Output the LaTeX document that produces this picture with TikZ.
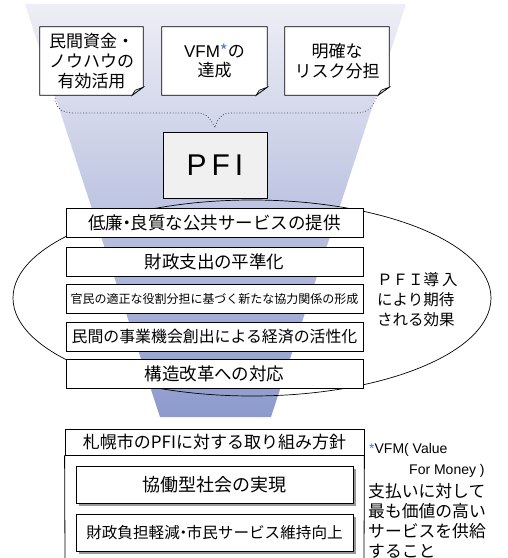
\documentclass[tikz,border=0pt]{standalone}
\usepackage{fontspec}
\setmainfont{Noto Sans CJK JP}
\newfontfamily\lat{Liberation Sans}
\usetikzlibrary{backgrounds,shadows,calc}
\definecolor{ftop}{RGB}{238,238,246}
\definecolor{fbot}{RGB}{140,154,205}
\definecolor{vfmblue}{RGB}{70,120,210}
\definecolor{pfifill}{RGB}{240,240,240}
\newcommand{\nakaguro}{\kern-0.28em・\kern-0.28em}
\begin{document}
\begin{tikzpicture}[x=1pt,y=-1pt,
  notebox/.style={minimum width=103pt, minimum height=68pt, inner sep=0pt, align=center,
    font=\fontsize{17}{19.8}\selectfont},
  noteline/.style={draw=black, line width=0.8pt, fill=white},
  effbox/.style={draw, fill=white, line width=0.8pt, minimum width=297pt, minimum height=29pt,
    inner sep=0pt, font=\fontsize{17.5}{20}\selectfont},
  planbox/.style={draw, fill=white, line width=0.8pt, minimum width=277pt, minimum height=37pt,
    inner sep=0pt, drop shadow={shadow xshift=2.5pt, shadow yshift=-2.5pt, fill=black!40, opacity=1}},
  bracepath/.style={dotted, line width=0.8pt, draw=black!75}
]
\useasboundingbox (0,0) rectangle (508,558);

% text boxes of the top row (outlines drawn on background)
\node[notebox] (b1) at (91.5,61) {民間資金・\\ノウハウの\\有効活用};
\node[notebox, minimum width=105pt] (b2) at (214.5,61) {{\lat VFM}\textcolor{vfmblue}{*}の\\達成};
\node[notebox, minimum width=104pt] (b3) at (337,61) {明確な\\リスク分担};

\begin{pgfonlayer}{background}
  % funnel
  \shade[top color=ftop, bottom color=fbot] (25,4) -- (406,4) -- (271,417) -- (160,417) -- cycle;
  % note outlines with folded corner
  \foreach \b in {b1,b2,b3}{
    \draw[noteline] (\b.north west) -- (\b.north east) -- ([yshift=8pt]\b.south east)
      -- ([xshift=-11pt]\b.south east) -- (\b.south west) -- cycle;
    \draw[line width=0.6pt, fill=black!15] ([yshift=8pt]\b.south east) -- ([xshift=-8pt,yshift=5pt]\b.south east)
      -- ([xshift=-11pt]\b.south east) -- cycle;
  }
  % ellipse of effects
  \draw[line width=0.7pt] (252,298) ellipse [x radius=239pt, y radius=98pt];
\end{pgfonlayer}

% PFI box
\node[draw, fill=pfifill, line width=0.8pt, minimum width=104pt, minimum height=66pt, inner sep=0pt,
  font=\lat\fontsize{30}{30}\selectfont] (pfi) at (215,165) {P\hspace{5pt}F\hspace{5pt}I};

% dotted brace
\coordinate (tip) at ([yshift=4pt]pfi.north);
\draw[bracepath] ([xshift=15pt]b1.south west) .. controls (56,108) and (60,113) .. (75,113)
  -- (198,113) .. controls (207,113) and (211,120) .. (tip)
  .. controls (217,120) and (221,113) .. (230,113) -- (356,113)
  .. controls (369,113) and (374,106) .. ([xshift=-12pt]b3.south east);

% effects
\node[effbox] (e1) at (214.5,222.5) {低廉\nakaguro 良質な公共サービスの提供};
\node[effbox] (e2) at (214.5,261.5) {財政支出の平準化};
\node[effbox, font=\fontsize{12}{14}\selectfont] (e3) at (214.5,298.5) {官民の適正な役割分担に基づく新たな協力関係の形成};
\node[effbox, font=\fontsize{15.9}{18}\selectfont] (e4) at (214.5,336.5) {民間の事業機会創出による経済の活性化};
\node[effbox] (e5) at (214.5,374) {構造改革への対応};

\node[anchor=west, align=left, inner sep=0pt, font=\fontsize{15.5}{20}\selectfont] (eff) at (377,300)
  {ＰＦＩ導\hspace{3pt}入\\により期待\\される効果};

% policy section
\node[draw, fill=white, line width=0.8pt, minimum width=299pt, minimum height=26pt, inner sep=0pt,
  font=\fontsize{17}{20}\selectfont] (hdr) at (214.5,442) {札幌市のPFIに対する取り組み方針};
\coordinate (obl) at (65,559);
\coordinate (obr) at (364,559);
\draw[line width=0.8pt] (hdr.south west) -- (obl);
\draw[line width=0.8pt] (hdr.south east) -- (obr);

\node[planbox, font=\fontsize{18}{20}\selectfont] (p1) at (214.5,484.5) {協働型社会の実現};
\node[planbox, font=\fontsize{15.6}{18}\selectfont] (p2) at (214.5,533) {財政負担軽減\nakaguro 市民サービス維持向上};

% footnote
\node[anchor=west, inner sep=0pt, font=\lat\fontsize{14}{16}\selectfont] (n1) at (369,450)
  {\textcolor{vfmblue}{*}VFM( Value};
\node[anchor=west, inner sep=0pt, font=\lat\fontsize{14}{16}\selectfont] (n2) at (409,471)
  {For Money )};
\node[anchor=north west, align=left, inner sep=0pt, font=\fontsize{16.8}{20}\selectfont] (n3) at (368,483)
  {支払いに対して\\最も価値の高い\\サービスを供給\\すること};
\end{tikzpicture}
\end{document}
